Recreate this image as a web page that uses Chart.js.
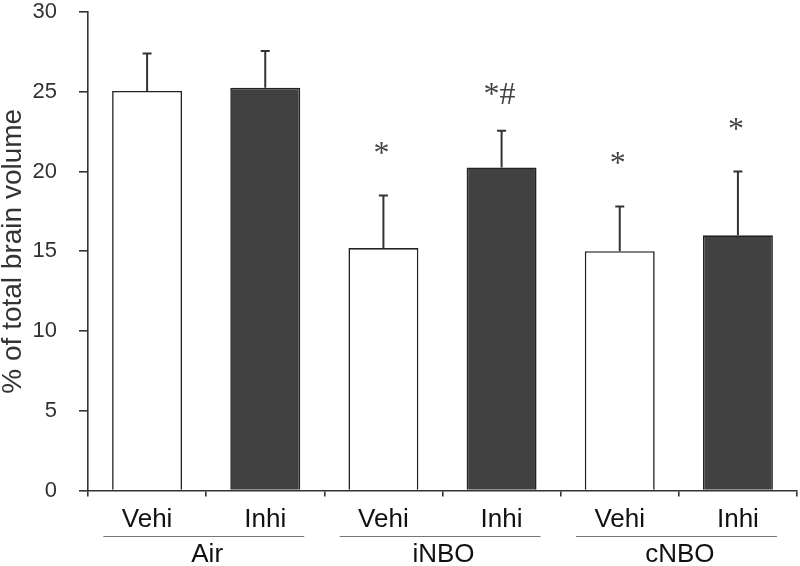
<!DOCTYPE html>
<html>
<head>
<meta charset="utf-8">
<script src="https://cdn.jsdelivr.net/npm/chart.js@4"></script>
<style>
html,body{margin:0;padding:0;background:#fff;}
#wrap{width:800px;height:566px;position:relative;}
</style>
</head>
<body>
<div id="wrap"><canvas id="c" width="800" height="566"></canvas></div>
<script>
const categories = ["Vehi", "Inhi", "Vehi", "Inhi", "Vehi", "Inhi"];
const groups = ["Air", "iNBO", "cNBO"];
const values = [25.05, 25.25, 15.2, 20.25, 15.0, 16.0];
const errorTops = [27.4, 27.55, 18.5, 22.55, 17.8, 20.0];
const marks = ["", "", "*", "*#", "*", "*"];
const markLevels = [null, null, 21.4, 25.1, 20.8, 22.9];
const yTicks = [0, 5, 10, 15, 20, 25, 30];

const fills = ["#ffffff", "#414141", "#ffffff", "#414141", "#ffffff", "#414141"];

const extras = {
  id: "extras",
  afterDatasetsDraw(chart) {
    const ctx = chart.ctx;
    const x = chart.scales.x, y = chart.scales.y;
    const meta = chart.getDatasetMeta(0);
    ctx.save();
    // error bars
    ctx.strokeStyle = "#333";
    ctx.lineWidth = 2;
    meta.data.forEach((bar, i) => {
      const yt = y.getPixelForValue(errorTops[i]);
      const yb = y.getPixelForValue(values[i]);
      ctx.beginPath();
      ctx.moveTo(bar.x, yb);
      ctx.lineTo(bar.x, yt);
      ctx.moveTo(bar.x - 4.5, yt);
      ctx.lineTo(bar.x + 4.5, yt);
      ctx.stroke();
    });
    // significance marks
    ctx.fillStyle = "#444";
    ctx.font = "32px 'Liberation Serif'";
    ctx.textAlign = "center";
    ctx.textBaseline = "middle";
    meta.data.forEach((bar, i) => {
      if (!marks[i]) return;
      ctx.fillText(marks[i], bar.x - 2, y.getPixelForValue(markLevels[i]) + 5.5);
    });
    // group underlines and labels
    ctx.strokeStyle = "#777";
    ctx.lineWidth = 1;
    ctx.fillStyle = "#111";
    ctx.font = "26px 'Liberation Sans'";
    ctx.textBaseline = "middle";
    groups.forEach((g, gi) => {
      const l = x.getPixelForValue(gi * 2);
      const r = x.getPixelForValue(gi * 2 + 1);
      const w = r - l;
      const mid = (l + r) / 2;
      ctx.beginPath();
      ctx.moveTo(mid - w * 0.87, 536.5);
      ctx.lineTo(mid + w * 0.83, 536.5);
      ctx.stroke();
      ctx.fillText(g, mid + 1, 555);
    });
    ctx.restore();
  }
};

new Chart(document.getElementById("c"), {
  type: "bar",
  data: {
    labels: categories,
    datasets: [{
      data: values,
      backgroundColor: fills,
      borderColor: "#222",
      borderWidth: 1.6,
      barPercentage: 0.592,
      categoryPercentage: 1.0
    }]
  },
  options: {
    responsive: false,
    animation: false,
    devicePixelRatio: 1,
    layout: { padding: { top: 12, right: 3, left: 0, bottom: 0 } },
    plugins: { legend: { display: false }, tooltip: { enabled: false } },
    scales: {
      x: {
        offset: true,
        grid: { offset: true, drawOnChartArea: false, drawTicks: true, tickLength: 6, color: "#333", lineWidth: 1.6 },
        border: { color: "#333", width: 1.6 },
        ticks: { color: "#111", font: { family: "Liberation Sans", size: 26 }, padding: 8, maxRotation: 0, minRotation: 0, autoSkip: false },
        afterFit(s) { s.height = 75.5; s.paddingLeft = 0; s.paddingRight = 0; s.paddingTop = 0; s.paddingBottom = 0; }
      },
      y: {
        min: 0, max: 30,
        afterBuildTicks(s) { s.ticks = yTicks.map(v => ({ value: v })); },
        grid: { drawOnChartArea: false, drawTicks: true, tickLength: 9, color: "#333", lineWidth: 1.6 },
        border: { color: "#333", width: 1.6 },
        ticks: { color: "#333", font: { family: "Liberation Sans", size: 22 }, padding: 22 },
        title: { display: true, text: "% of total brain volume", color: "#333", font: { family: "Liberation Sans", size: 28, lineHeight: 1.0 }, padding: { top: -1, bottom: 0 } },
        afterFit(s) { s.width = 88; s.paddingTop = 0; s.paddingBottom = 0; s.paddingLeft = 0; s.paddingRight = 0; }
      }
    }
  },
  plugins: [extras]
});
</script>
</body>
</html>
